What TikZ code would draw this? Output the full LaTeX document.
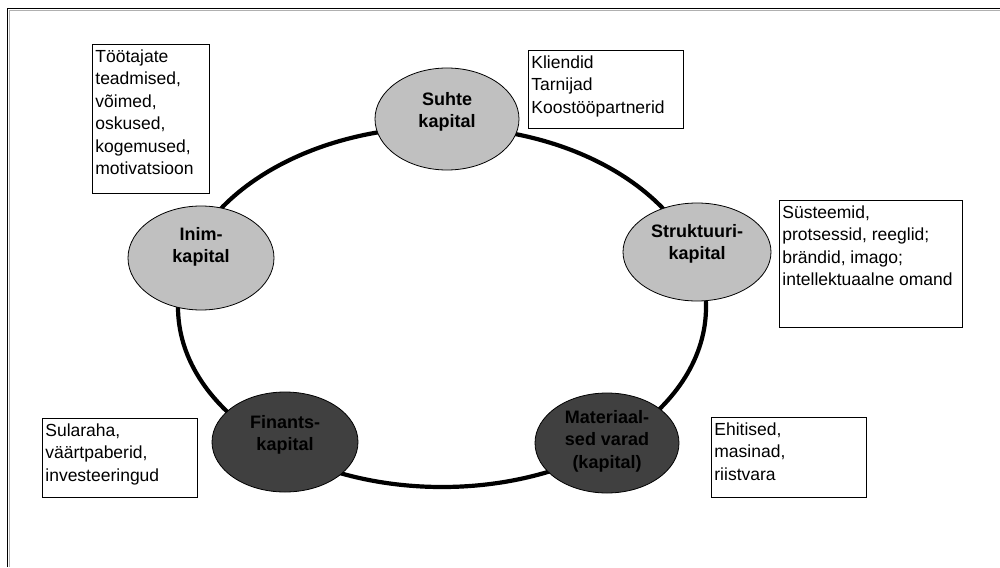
\documentclass[tikz,border=0pt]{standalone}
\usepackage{fontspec}
\setmainfont{Liberation Sans}
\usetikzlibrary{shapes.geometric}
\definecolor{lightfill}{HTML}{C0C0C0}
\definecolor{darkfill}{HTML}{404040}
\definecolor{shadowgray}{HTML}{B0B0B0}
\newcommand\txtbox[6]{%
  \node[tbox, anchor=north west] (#1) at (#2,#3)
    {\parbox[t][\dimexpr#5pt-4.5pt\relax][t]{\dimexpr#4pt-6pt\relax}{\raggedright\strut#6}};}
\begin{document}
\begin{tikzpicture}[x=1pt, y=-1pt,
  tbox/.style={draw=black, line width=0.8pt, fill=white, inner xsep=3pt, inner ysep=2.25pt,
    font=\fontsize{17.5}{22.5}\selectfont},
  elight/.style={ellipse, draw=black, line width=0.8pt, fill=lightfill, inner sep=0pt},
  edark/.style={ellipse, draw=black, line width=0.8pt, fill=darkfill, inner sep=0pt},
  lab/.style={align=center, font=\fontsize{18}{22.5}\selectfont\bfseries, text=black},
  ring/.style={draw=black, line width=4.2pt}
]
\useasboundingbox (0,0) rectangle (1000,567);
\fill[white] (0,0) rectangle (1000,567);
% frame
\draw[shadowgray, line width=1pt] (9.6,567) -- (9.6,10.6) -- (1000,10.6);
\draw[black, line width=1.6pt] (7.5,567) -- (7.5,8.5) -- (1000,8.5);
% ring
\coordinate (ringc) at (442,307);
\draw[ring] (ringc) ellipse [x radius=264, y radius=180];
% ellipses
\node[elight, minimum width=144pt, minimum height=102pt] (suhte) at (447,119) {};
\node[elight, minimum width=148pt, minimum height=98pt] (strukt) at (697,252) {};
\node[elight, minimum width=146pt, minimum height=104pt] (inim) at (201,258) {};
\node[edark, minimum width=146pt, minimum height=100pt] (finants) at (285,442) {};
\node[edark, minimum width=144pt, minimum height=100pt] (mater) at (607,443) {};
\node[lab] (suhtelab) at ([yshift=7]suhte.center) {Suhte\\kapital};
\node[lab] (struktlab) at ([yshift=8]strukt.center) {Struktuuri-\\kapital};
\node[lab] (inimlab) at ([yshift=11]inim.center) {Inim-\\kapital};
\node[lab] (finantslab) at ([yshift=7]finants.center) {Finants-\\kapital};
\node[lab] (materlab) at ([yshift=2]mater.center) {Materiaal-\\sed varad\\(kapital)};
% text boxes
\txtbox{inimbox}{92}{44}{117}{149}{Töötajate\\teadmised,\\võimed,\\oskused,\\kogemused,\\motivatsioon}
\txtbox{suhtebox}{528}{50}{155}{78}{Kliendid\\Tarnijad\\Koostööpartnerid}
\txtbox{struktbox}{779}{200}{183}{127}{Süsteemid,\\protsessid, reeglid;\\brändid, imago;\\intellektuaalne omand}
\txtbox{finbox}{42}{418}{155}{79}{Sularaha,\\väärtpaberid,\\investeeringud}
\txtbox{materbox}{711}{417}{155}{80}{Ehitised,\\masinad,\\riistvara}
\end{tikzpicture}
\end{document}
